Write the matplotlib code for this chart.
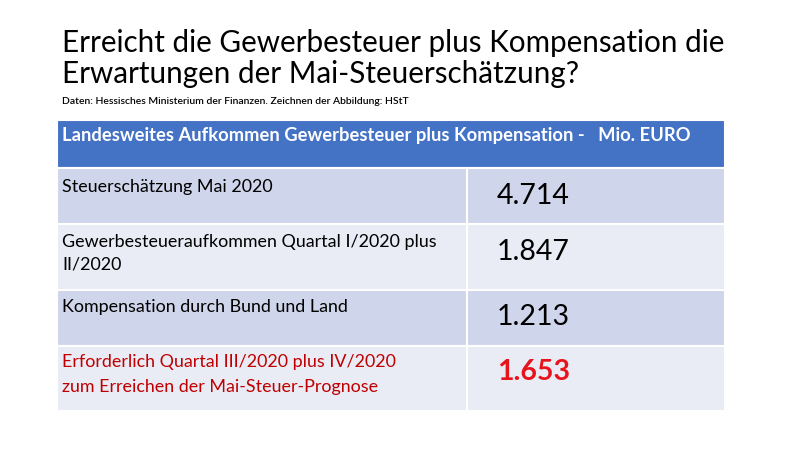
import matplotlib
matplotlib.use("Agg")
import matplotlib.pyplot as plt
from matplotlib.patches import Rectangle

# ---- data ----
title_lines = ["Erreicht die Gewerbesteuer plus Kompensation die",
               "Erwartungen der Mai-Steuerschätzung?"]
subtitle = "Daten: Hessisches Ministerium der Finanzen. Zeichnen der Abbildung: HStT"
header = "Landesweites Aufkommen Gewerbesteuer plus Kompensation -   Mio. EURO"
row_labels = ["Steuerschätzung Mai 2020",
              "Gewerbesteueraufkommen Quartal I/2020 plus\nII/2020",
              "Kompensation durch Bund und Land",
              "Erforderlich Quartal III/2020 plus IV/2020\nzum Erreichen der Mai-Steuer-Prognose"]
row_values = ["4.714", "1.847", "1.213", "1.653"]
highlight = [False, False, False, True]

# ---- layout (pixels) ----
W, H = 800, 450
row_edges = [120, 168, 224, 290, 346, 411]
col_edges = [57, 467, 725]
FONT = "Lato"

fig = plt.figure(figsize=(8, 4.5), dpi=100)
ax = fig.add_axes([0, 0, 1, 1])
ax.set_xlim(0, W)
ax.set_ylim(H, 0)
ax.axis("off")
renderer = fig.canvas.get_renderer()


def fit_size(text, width, weight="normal", base=20):
    t = ax.text(0, 0, text, fontsize=base, family=FONT, weight=weight)
    w = t.get_window_extent(renderer).width
    t.remove()
    return base * width / w


# title
ts = fit_size(title_lines[0], 665)
ax.text(62, 52, title_lines[0], fontsize=ts, family=FONT, va="baseline", color="black")
ax.text(62, 83, title_lines[1], fontsize=ts, family=FONT, va="baseline", color="black")
ss = fit_size(subtitle, 346, weight="semibold")
ax.text(62, 104, subtitle, fontsize=ss, family=FONT, weight="semibold",
        va="baseline", color="black")

# header
ax.add_patch(Rectangle((col_edges[0], row_edges[0]), col_edges[2] - col_edges[0],
                       row_edges[1] - row_edges[0], facecolor="#4472C4",
                       edgecolor="white", lw=1.5))
hs = fit_size(header, 628, weight="bold")
ax.text(62, 141, header, fontsize=hs, family=FONT, weight="bold", color="white",
        va="baseline")

# rows
fills = ["#CFD5EA", "#E9EBF5"]
ls = fit_size(row_labels[0], 211)
ns = fit_size(row_values[0], 73)
label_base = [192, 247, 312, 367]
line_gap = [0, 23, 0, 25]
num_base = [204, 260, 325, 380]
for i, (lab, val, hl) in enumerate(zip(row_labels, row_values, highlight)):
    y0, y1 = row_edges[i + 1], row_edges[i + 2]
    for c in range(2):
        ax.add_patch(Rectangle((col_edges[c], y0), col_edges[c + 1] - col_edges[c], y1 - y0,
                               facecolor=fills[i % 2], edgecolor="white", lw=1.5))
    tcol = "#C00000" if hl else "black"
    for k, line in enumerate(lab.split("\n")):
        ax.text(62, label_base[i] + k * line_gap[i], line, fontsize=ls, family=FONT,
                va="baseline", color=tcol)
    ax.text(497, num_base[i], val, fontsize=ns, family=FONT, va="baseline",
            weight="bold" if hl else "normal", color="#E8141B" if hl else "black")

fig.savefig("out.png", dpi=100)
